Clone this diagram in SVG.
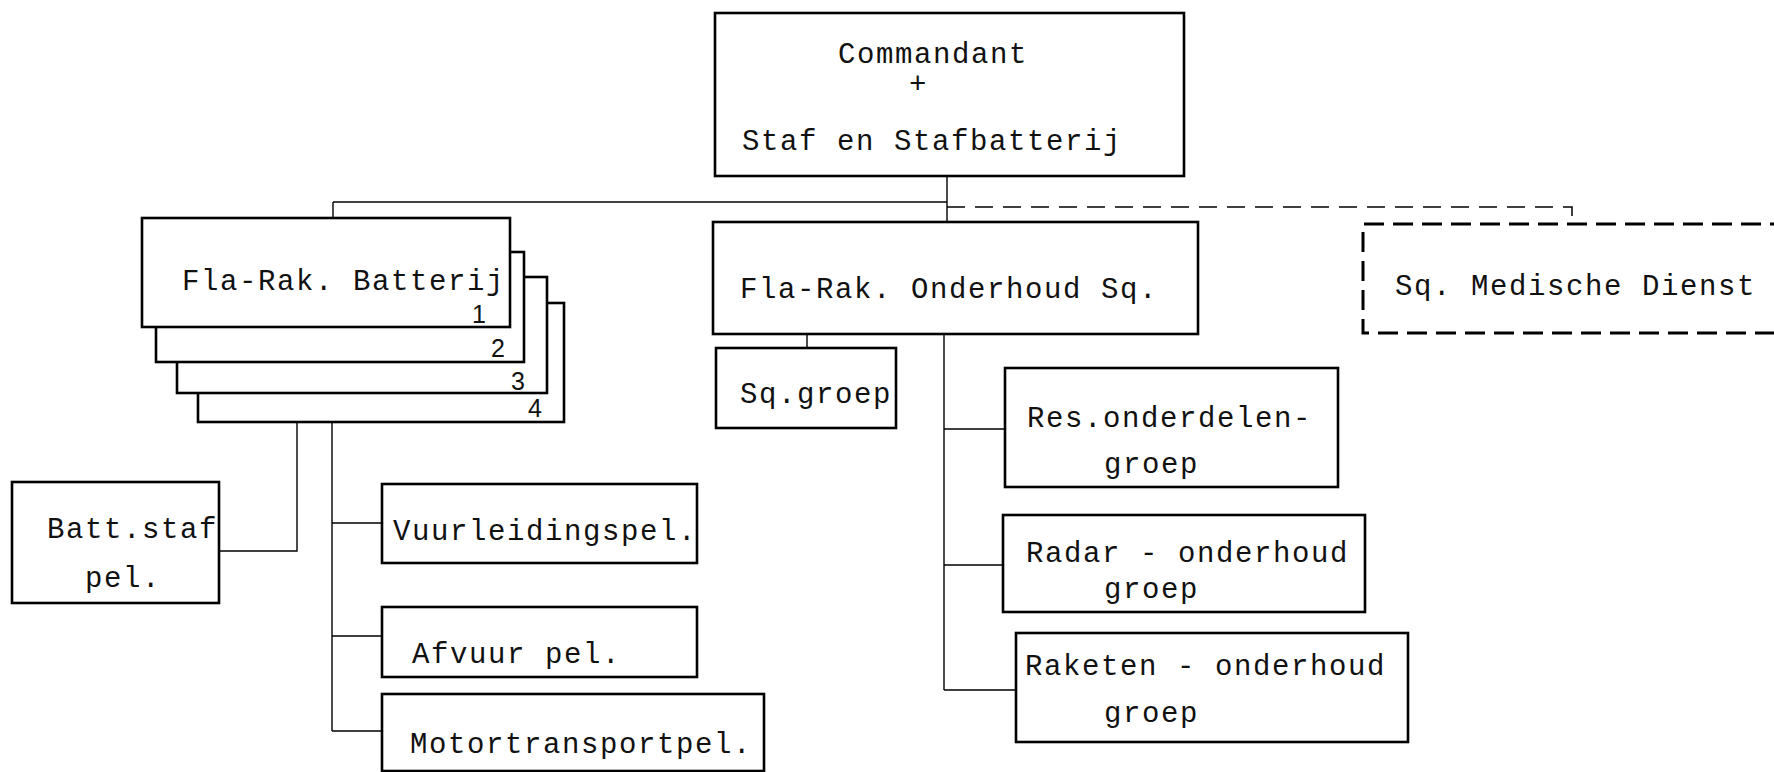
<svg xmlns="http://www.w3.org/2000/svg" width="1774" height="772" viewBox="0 0 1774 772">
<style>
.box{fill:#fff;stroke:#000;stroke-width:2.6}
.dbox{fill:none;stroke:#000;stroke-width:3;stroke-dasharray:20 9}
.ln{fill:none;stroke:#000;stroke-width:1.4}
.dln{fill:none;stroke:#000;stroke-width:1.5;stroke-dasharray:18 10}
text{font-family:"Liberation Mono","Courier New",monospace;font-size:29px;letter-spacing:1.6px;fill:#111}
.num{font-family:"Liberation Sans",Arial,sans-serif;font-size:25px;letter-spacing:0}
</style>
<rect width="1774" height="772" fill="#fff"/>
<g id="connectors">
<path class="ln" d="M947 176V222"/>
<path class="ln" d="M333 202H947"/>
<path class="ln" d="M333 202V218"/>
<path class="dln" d="M947 207H1572V224"/>
<path class="ln" d="M297 422V551H219"/>
<path class="ln" d="M332 422V731"/>
<path class="ln" d="M332 523H382M332 636H382M332 731H382"/>
<path class="ln" d="M807 334V348"/>
<path class="ln" d="M944 334V690"/>
<path class="ln" d="M944 429H1005M944 565H1003M944 690H1016"/>
</g>
<g id="commandant">
<rect class="box" x="715" y="13" width="469" height="163"/>
<text x="838" y="63">Commandant</text>
<text x="909" y="93">+</text>
<text x="742" y="150">Staf en Stafbatterij</text>
</g>
<g id="batterij">
<rect class="box" x="198" y="303" width="366" height="119"/>
<text class="num" x="528" y="417">4</text>
<rect class="box" x="177" y="277" width="370" height="116"/>
<text class="num" x="511" y="390">3</text>
<rect class="box" x="156" y="252" width="368" height="110"/>
<text class="num" x="491" y="357">2</text>
<rect class="box" x="142" y="218" width="368" height="109"/>
<text class="num" x="472" y="323">1</text>
<text x="182" y="290">Fla-Rak. Batterij</text>
</g>
<g id="onderhoud">
<rect class="box" x="713" y="222" width="485" height="112"/>
<text x="740" y="298">Fla-Rak. Onderhoud Sq.</text>
</g>
<g id="medische">
<path class="dbox" d="M1790 224H1363V333H1790"/>
<text x="1395" y="295">Sq. Medische Dienst</text>
</g>
<g id="sqgroep">
<rect class="box" x="716" y="348" width="180" height="80"/>
<text x="740" y="403">Sq.groep</text>
</g>
<g id="battstaf">
<rect class="box" x="12" y="482" width="207" height="121"/>
<text x="47" y="538">Batt.staf</text>
<text x="85" y="587">pel.</text>
</g>
<g id="vuurleiding">
<rect class="box" x="382" y="484" width="315" height="79"/>
<text x="393" y="540">Vuurleidingspel.</text>
</g>
<g id="afvuur">
<rect class="box" x="382" y="607" width="315" height="70"/>
<text x="412" y="663">Afvuur pel.</text>
</g>
<g id="motor">
<rect class="box" x="382" y="694" width="382" height="77"/>
<text x="410" y="753">Motortransportpel.</text>
</g>
<g id="res">
<rect class="box" x="1005" y="368" width="333" height="119"/>
<text x="1027" y="427">Res.onderdelen-</text>
<text x="1104" y="473">groep</text>
</g>
<g id="radar">
<rect class="box" x="1003" y="515" width="362" height="97"/>
<text x="1026" y="562">Radar - onderhoud</text>
<text x="1104" y="598">groep</text>
</g>
<g id="raketen">
<rect class="box" x="1016" y="633" width="392" height="109"/>
<text x="1025" y="675">Raketen - onderhoud</text>
<text x="1104" y="722">groep</text>
</g>
</svg>
